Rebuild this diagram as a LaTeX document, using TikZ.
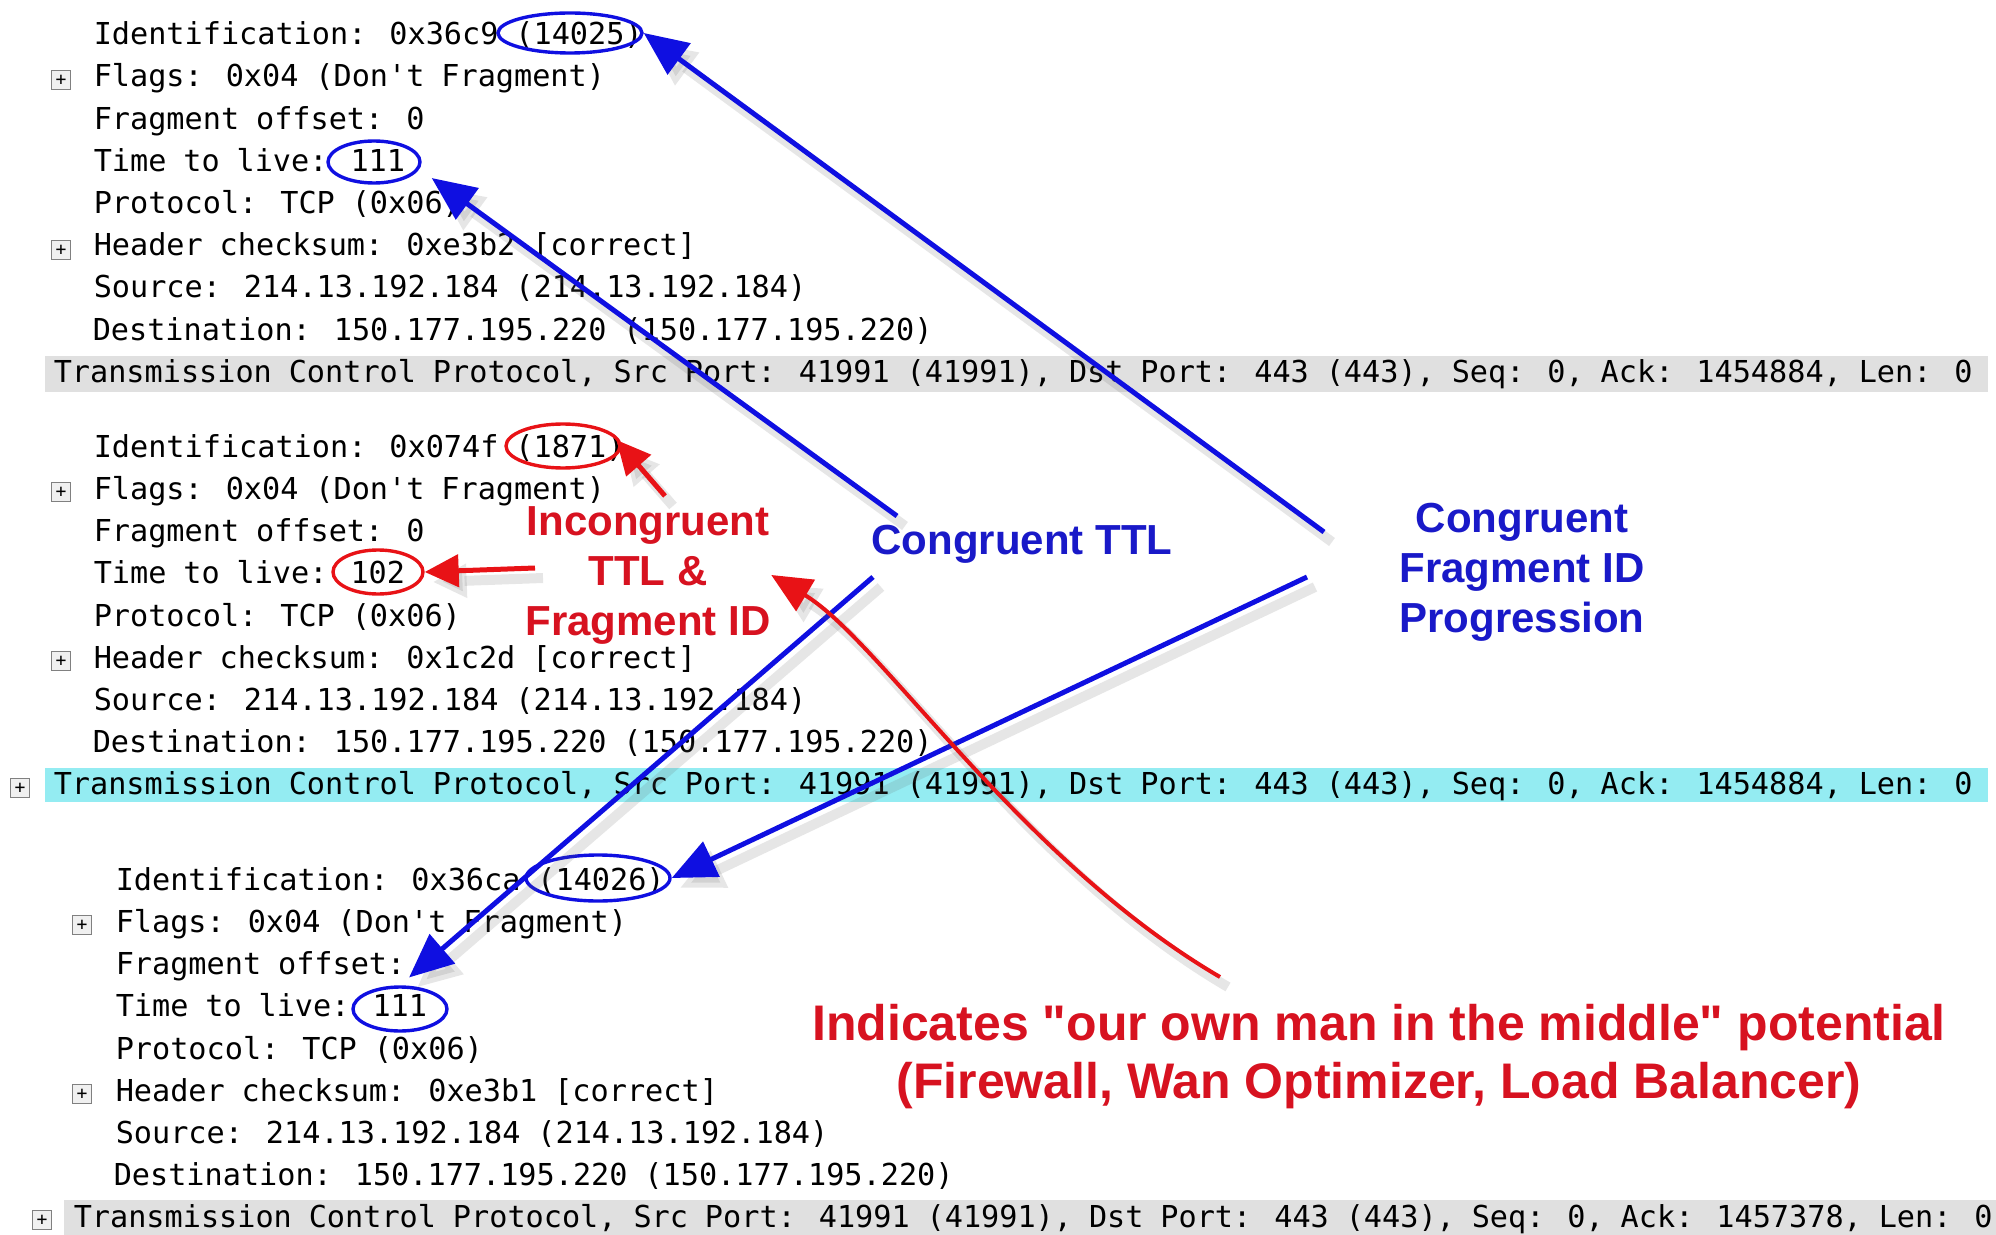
\documentclass[tikz,border=0pt]{standalone}
\usepackage{fontspec}
\usetikzlibrary{arrows.meta,shapes.geometric}
\newfontfamily\pktfamily{DejaVu Sans Mono}[WordSpace=0.93]
\newfontfamily\lblfamily{Liberation Sans}
\definecolor{lineblue}{RGB}{15,15,225}
\definecolor{textblue}{RGB}{25,25,200}
\definecolor{linered}{RGB}{232,18,22}
\definecolor{textred}{RGB}{215,18,32}
\definecolor{bargray}{RGB}{224,224,224}
\definecolor{barcyan}{RGB}{148,236,242}

\tikzset{every picture/.style={line width=0.75pt}}
\tikzset{
  pkt/.style={anchor=base west, inner sep=0pt, font=\pktfamily\fontsize{15.1}{18}\selectfont},
  pbox/.style={draw=black!50, fill=black!6, minimum size=9.5pt, inner sep=0pt, line width=0.6pt,
    font=\pktfamily\fontsize{9}{9}\selectfont},
  ring/.style={ellipse, draw=lineblue, line width=1.7pt, inner sep=0pt},
  redring/.style={ring, draw=linered},
  note/.style={inner sep=0pt, align=center, font=\lblfamily\bfseries\fontsize{21}{25}\selectfont},
  bignote/.style={note, font=\lblfamily\bfseries\fontsize{25}{29}\selectfont},
  drop/.style={preaction={draw=black!60, opacity=0.16, line width=5pt, transform canvas={shift={(4pt,-5pt)}}}},
  barrow/.style={drop, draw=lineblue, line width=2.5pt, -{Triangle[length=22pt,width=19pt]}},
  rarrow/.style={drop, draw=linered, line width=2.5pt, -{Triangle[length=17pt,width=16pt]}},
  rcurve/.style={drop, draw=linered, line width=2pt, -{Triangle[length=20pt,width=18pt]}}
}

\begin{document}
\begin{tikzpicture}[x=0.5pt,y=0.5pt,yscale=-1,xscale=1]
\useasboundingbox (0,0) rectangle (1996,1235);

%Shape: Rectangle
\fill [bargray] (45,356) rectangle (1988,392);
%Shape: Rectangle
\fill [barcyan] (45,768) rectangle (1988,802);
%Shape: Rectangle
\fill [bargray] (64,1200) rectangle (1996,1235);

% first packet
% Text Node
\node [pkt] (s1id) at (93,45) {Identification: 0x36c9 (14025)};
% Text Node
\node [pkt] (s1fl) at (93,87) {Flags: 0x04 (Don\textquotesingle t Fragment)};
% Text Node
\node [pkt] (s1fo) at (93,129.5) {Fragment offset: 0};
% Text Node
\node [pkt] (s1tl) at (93,171.5) {Time to live: 111};
% Text Node
\node [pkt] (s1pr) at (93,214) {Protocol: TCP (0x06)};
% Text Node
\node [pkt] (s1hc) at (93,256) {Header checksum: 0xe3b2 [correct]};
% Text Node
\node [pkt] (s1sr) at (93,298) {Source: 214.13.192.184 (214.13.192.184)};
% Text Node
\node [pkt] (s1ds) at (92,340.5) {Destination: 150.177.195.220 (150.177.195.220)};
% Text Node
\node [pkt] (s1tcp) at (53,382.5) {Transmission Control Protocol, Src Port: 41991 (41991), Dst Port: 443 (443), Seq: 0, Ack: 1454884, Len: 0};

% second packet
% Text Node
\node [pkt] (s2id) at (93,457) {Identification: 0x074f (1871)};
% Text Node
\node [pkt] (s2fl) at (93,499) {Flags: 0x04 (Don\textquotesingle t Fragment)};
% Text Node
\node [pkt] (s2fo) at (93,541.5) {Fragment offset: 0};
% Text Node
\node [pkt] (s2tl) at (93,583.5) {Time to live: 102};
% Text Node
\node [pkt] (s2pr) at (93,626) {Protocol: TCP (0x06)};
% Text Node
\node [pkt] (s2hc) at (93,668) {Header checksum: 0x1c2d [correct]};
% Text Node
\node [pkt] (s2sr) at (93,710) {Source: 214.13.192.184 (214.13.192.184)};
% Text Node
\node [pkt] (s2ds) at (92,752.5) {Destination: 150.177.195.220 (150.177.195.220)};
% Text Node
\node [pkt] (s2tcp) at (53,794.5) {Transmission Control Protocol, Src Port: 41991 (41991), Dst Port: 443 (443), Seq: 0, Ack: 1454884, Len: 0};

% third packet
% Text Node
\node [pkt] (s3id) at (115,890) {Identification: 0x36ca (14026)};
% Text Node
\node [pkt] (s3fl) at (115,932) {Flags: 0x04 (Don\textquotesingle t Fragment)};
% Text Node
\node [pkt] (s3fo) at (115,974.5) {Fragment offset:};
% Text Node
\node [pkt] (s3tl) at (115,1016.5) {Time to live: 111};
% Text Node
\node [pkt] (s3pr) at (115,1059) {Protocol: TCP (0x06)};
% Text Node
\node [pkt] (s3hc) at (115,1101) {Header checksum: 0xe3b1 [correct]};
% Text Node
\node [pkt] (s3sr) at (115,1143) {Source: 214.13.192.184 (214.13.192.184)};
% Text Node
\node [pkt] (s3ds) at (113,1185.5) {Destination: 150.177.195.220 (150.177.195.220)};
% Text Node
\node [pkt] (s3tcp) at (73,1227.5) {Transmission Control Protocol, Src Port: 41991 (41991), Dst Port: 443 (443), Seq: 0, Ack: 1457378, Len: 0};

% expand boxes
\node [pbox] (p1) at (61,80) {+};
\node [pbox] (p2) at (61,250) {+};
\node [pbox] (p3) at (61,492) {+};
\node [pbox] (p4) at (61,661) {+};
\node [pbox] (p5) at (20,788) {+};
\node [pbox] (p6) at (82,925) {+};
\node [pbox] (p7) at (82,1094) {+};
\node [pbox] (p8) at (42,1220) {+};

%Shape: Ellipse
\node [ring, minimum width=72pt, minimum height=20pt] (e1) at (570,33) {};
%Shape: Ellipse
\node [ring, minimum width=46pt, minimum height=21pt] (e2) at (374,162) {};
%Shape: Ellipse
\node [redring, minimum width=57pt, minimum height=22pt] (e3) at (563,446) {};
%Shape: Ellipse
\node [redring, minimum width=45pt, minimum height=22pt] (e4) at (378,572) {};
%Shape: Ellipse
\node [ring, minimum width=72pt, minimum height=23pt] (e5) at (598,878) {};
%Shape: Ellipse
\node [ring, minimum width=47pt, minimum height=22pt] (e6) at (400,1009) {};

% Text Node
\node [note, text=textred] (inc) at (648,575) {Incongruent\\TTL \&\\Fragment ID};
% Text Node
\node [note, text=textblue] (cttl) at (1022,544) {Congruent TTL};
% Text Node
\node [note, text=textblue] (cfid) at (1522,572) {Congruent\\Fragment ID\\Progression};
% Text Node
\node [bignote, text=textred] (mitm) at (1379,1057) {Indicates "our own man in the middle" potential\\(Firewall, Wan Optimizer, Load Balancer)};

% free ends of the arrows
\coordinate (fidA) at (1324,532);
\coordinate (fidB) at (1307,577);
\coordinate (ttlA) at (897,516);
\coordinate (ttlB) at (873,577);
\coordinate (incA) at (665,496);
\coordinate (incB) at (535,568);
\coordinate (mitmA) at (1220,977);

%Straight Lines
\draw [barrow] (fidA) -- (e1.east);
%Straight Lines
\draw [barrow] (ttlA) -- ([xshift=12pt]e2.south east);
%Straight Lines
\draw [barrow, shorten >=6pt] (ttlB) -- (e6.north);
%Straight Lines
\draw [barrow] (fidB) -- (e5.east);
%Straight Lines
\draw [rarrow, shorten >=-4pt] (incA) -- (e3.east);
%Straight Lines
\draw [rarrow] (incB) -- (e4.east);
%Curve Lines
\draw [rcurve] (mitmA) .. controls (1020,860) and (880,640) .. (inc.east);

\end{tikzpicture}
\end{document}
